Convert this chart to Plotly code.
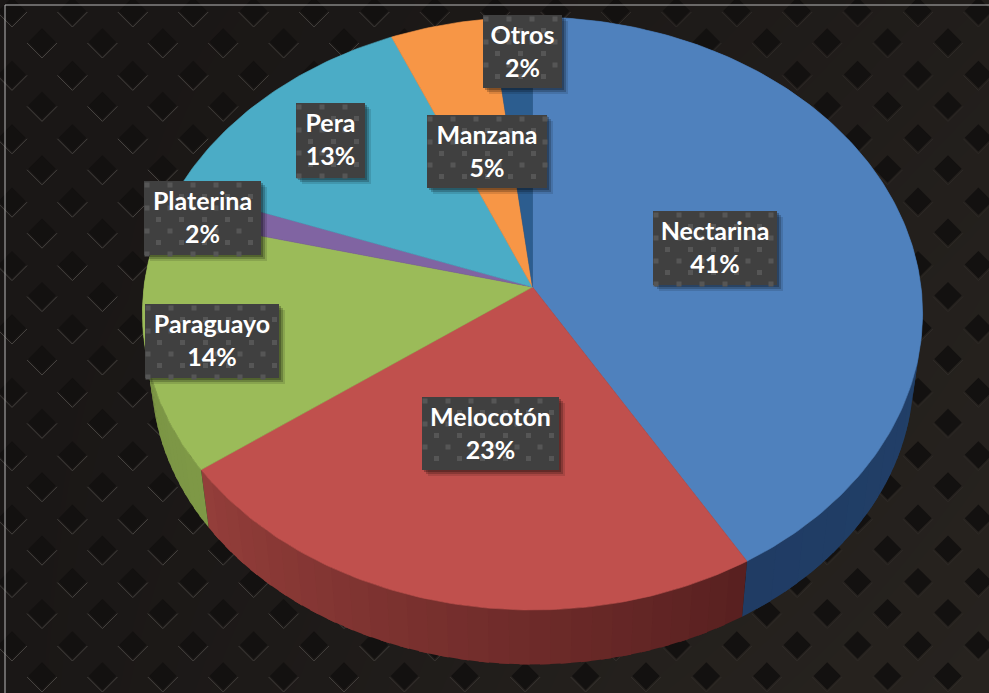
import math
import plotly.graph_objects as go

# ---- data ----
categories = ["Nectarina", "Melocotón", "Paraguayo", "Platerina", "Pera", "Manzana", "Otros"]
shares = [41.49, 23.49, 13.9, 1.7, 13.0, 4.55, 1.87]

# ---- styles and layout ----
face_colors = ["#4f81bd", "#c0504d", "#9bbb59", "#8064a2", "#4bacc6", "#f79646", "#2c5d8f"]
wall_from = {"Nectarina": (35, 70, 112), "Melocotón": (88, 32, 32), "Paraguayo": (126, 152, 70)}
wall_to = {"Nectarina": (32, 60, 100), "Melocotón": (148, 62, 58), "Paraguayo": (120, 146, 68)}
label_boxes = {
    "Nectarina": (653, 211, 777, 285),
    "Melocotón": (422, 397, 559, 470),
    "Paraguayo": (145, 304, 279, 378),
    "Platerina": (144, 181, 261, 255),
    "Pera": (296, 103, 365, 178),
    "Manzana": (427, 115, 547, 188),
    "Otros": (483, 15, 562, 88),
}
W, H = 989, 693
CX, CY, A, B, K = 532.5, 287.0, 388.5, 294.1, -0.0894
WALL_SCALE, WALL_DROP = 0.977, 62.0
FONT = "Lato"


def project(fraction, scale=1.0, drop=0.0):
    t = 2 * math.pi * fraction
    u, v = math.sin(t), -math.cos(t)
    den = 1 + K * v
    return CX + scale * A * u / den, CY + drop + scale * B * v / den


def arc(f0, f1, scale=1.0, drop=0.0):
    n = max(2, int((f1 - f0) * 400))
    pts = [project(f0 + (f1 - f0) * i / n, scale, drop) for i in range(n + 1)]
    return [p[0] for p in pts], [p[1] for p in pts]


def rgb(c):
    return "rgb(%d,%d,%d)" % tuple(int(round(x)) for x in c)


fig = go.Figure()


def polygon(xs, ys, color, opacity=1.0, line=True):
    fig.add_trace(go.Scatter(
        x=xs, y=ys, mode="lines", fill="toself", fillcolor=color, opacity=opacity,
        line=dict(color=color, width=0.6 if line else 0), hoverinfo="skip", showlegend=False))


# background gradient
fig.add_trace(go.Heatmap(
    x=[5, 300, 650, 989], y=[5, 300, 693],
    z=[[0.0, 0.05, 0.25, 0.55], [0.0, 0.1, 0.5, 0.8], [0.0, 0.3, 0.8, 1.0]],
    zsmooth="best", showscale=False, hoverinfo="skip",
    colorscale=[[0, "#1a1716"], [1, "#27231f"]], zmin=0, zmax=1))

# diamond lattice
SX, SY = 60.4, 63.4
dx, dy = [], []
buckets = {}
for cls, (x0, y0) in enumerate([(12, 11), (42, 42)]):
    for i in range(-1, 18):
        for j in range(-1, 12):
            x = x0 + SX * i
            y = y0 + SY * j
            dx.append(x)
            dy.append(y)
            b = min(4, int(max(x, 0) / 200))
            cx, cy = buckets.setdefault(b, ([], []))
            cx += [x - 15, x, x + 15, None]
            cy += [y + 1, y + 16, y + 1, None]
fig.add_trace(go.Scatter(
    x=dx, y=dy, mode="markers", hoverinfo="skip", showlegend=False,
    marker=dict(symbol="diamond", size=21, color="#131110", line=dict(width=0))))
chevron_colors = ["#45423f", "#403d3a", "#383431", "#2f2b28", "#2d2926"]
for b, (cx, cy) in sorted(buckets.items()):
    fig.add_trace(go.Scatter(x=cx, y=cy, mode="lines", hoverinfo="skip", showlegend=False,
                             line=dict(color=chevron_colors[b], width=1)))

# fractions of the circle, from the values
total = sum(shares)
edges = [0.0]
for s in shares:
    edges.append(edges[-1] + s / total)

# side walls, in short overlapping strips so the shading runs along the rim
for i, name in enumerate(categories):
    if name not in wall_from:
        continue
    f0, f1 = edges[i], edges[i + 1]
    n = 30
    for k in range(n):
        a = f0 + (f1 - f0) * k / n
        b = min(f1, f0 + (f1 - f0) * (k + 1.5) / n)
        m = (k + 0.5) / n
        c = [wall_from[name][q] + (wall_to[name][q] - wall_from[name][q]) * m for q in range(3)]
        xt, yt = arc(a, b)
        xb, yb = arc(a, b, WALL_SCALE, WALL_DROP)
        polygon(xt + xb[::-1], yt + yb[::-1], rgb(c), line=False)

# top faces
for i, name in enumerate(categories):
    xs, ys = arc(edges[i], edges[i + 1])
    polygon([CX] + xs + [CX], [CY] + ys + [CY], face_colors[i])

# label boxes
for name in categories:
    x0, y0, x1, y1 = label_boxes[name]
    for off, op in ((6, 0.12), (4, 0.2), (2, 0.25)):
        polygon([x0 + off, x1 + off, x1 + off, x0 + off, x0 + off],
                [y0 + off, y0 + off, y1 + off, y1 + off, y0 + off], "#000000", op, False)
    polygon([x0, x1, x1, x0, x0], [y0, y0, y1, y1, y0], "#404040", 1.0, False)
    px, py = [], []
    r = 0
    y = y0 + 4
    while y < y1:
        x = x0 + 3 + (r % 2) * 11.5
        while x < x1:
            px.append(x)
            py.append(y)
            x += 23
        y += 11.5
        r += 1
    fig.add_trace(go.Scatter(x=px, y=py, mode="markers", hoverinfo="skip", showlegend=False,
                             marker=dict(symbol="square", size=5, color="#565656", line=dict(width=0))))

# label text
tx, ty, tt = [], [], []
for name, s in zip(categories, shares):
    x0, y0, x1, y1 = label_boxes[name]
    mx = (x0 + x1) / 2
    tx += [mx, mx]
    ty += [y0 + 23, y0 + 56]
    tt += [name, f"{s / total * 100:.0f}%"]
fig.add_trace(go.Scatter(
    x=tx, y=ty, text=tt, mode="text", textposition="middle center", hoverinfo="skip", showlegend=False,
    textfont=dict(family=FONT, size=25, color="#ffffff", weight="bold")))

axis = dict(visible=False, showgrid=False, zeroline=False, fixedrange=True)
fig.update_layout(
    width=W, height=H, margin=dict(l=0, r=0, t=0, b=0),
    paper_bgcolor="#ffffff", plot_bgcolor="#ffffff", showlegend=False,
    xaxis=dict(range=[0, W], **axis),
    yaxis=dict(range=[H, 0], **axis),
    shapes=[dict(type="line", x0=5, x1=5, y0=5, y1=H, line=dict(color="#b8b8b8", width=1)),
            dict(type="line", x0=5, x1=W, y0=5, y1=5, line=dict(color="#b8b8b8", width=1))],
)
fig.write_html("out.html", config=dict(displayModeBar=False),
               post_script="document.body.style.margin='0';document.documentElement.style.overflow='hidden';")
